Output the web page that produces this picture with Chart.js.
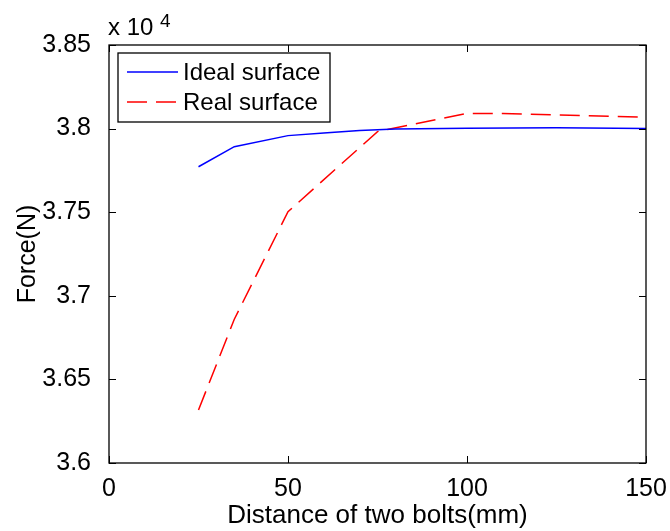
<!DOCTYPE html>
<html>
<head>
<meta charset="utf-8">
<script src="https://cdn.jsdelivr.net/npm/chart.js@4.4.1/dist/chart.umd.min.js"></script>
<style>
  html, body { margin: 0; padding: 0; background: #fff; }
  #wrap { width: 670px; height: 531px; }
</style>
</head>
<body>
<div id="wrap"><canvas id="myChart" width="670" height="531"></canvas></div>
<script>
// values (force in units of 10^4 N)
const idealX = [25, 35, 50, 60, 70, 80, 100, 125, 150];
const idealY = [3.7772, 3.7892, 3.7958, 3.7973, 3.7988, 3.7997, 3.8002, 3.8005, 3.8000];
const realX = [25, 35, 50, 75, 100, 110, 125, 140, 150];
const realY = [3.6317, 3.686, 3.7503, 3.7982, 3.8091, 3.8091, 3.8082, 3.8073, 3.8068];
const seriesNames = ['Ideal surface', 'Real surface'];
const xTicks = [0, 50, 100, 150];
const yTicks = [3.6, 3.65, 3.7, 3.75, 3.8, 3.85];

const FONT = "'Liberation Sans', Arial, sans-serif";

function pts(xs, ys) {
  return xs.map((x, i) => ({ x: x, y: ys[i] }));
}

// box, inward ticks, legend and exponent label, MATLAB style
const matlabAxes = {
  id: 'matlabAxes',
  afterDraw(chart) {
    const ctx = chart.ctx;
    const a = chart.chartArea;
    const xs = chart.scales.x, ys = chart.scales.y;
    ctx.save();
    ctx.strokeStyle = '#000';
    ctx.lineWidth = 1.3;
    ctx.strokeRect(a.left, a.top, a.right - a.left, a.bottom - a.top);
    ctx.lineWidth = 1;
    const tl = 7;
    ctx.beginPath();
    xTicks.forEach(v => {
      const px = Math.round(xs.getPixelForValue(v)) + 0.5;
      ctx.moveTo(px, a.bottom); ctx.lineTo(px, a.bottom - tl);
      ctx.moveTo(px, a.top); ctx.lineTo(px, a.top + tl);
    });
    yTicks.forEach(v => {
      const py = Math.round(ys.getPixelForValue(v)) + 0.5;
      ctx.moveTo(a.left, py); ctx.lineTo(a.left + tl, py);
      ctx.moveTo(a.right, py); ctx.lineTo(a.right - tl, py);
    });
    ctx.stroke();

    // legend box
    const lx = a.left + 9, ly = a.top + 8, lw = 212, lh = 69;
    ctx.fillStyle = '#fff';
    ctx.fillRect(lx, ly, lw, lh);
    ctx.lineWidth = 1.3;
    ctx.strokeRect(lx, ly, lw, lh);
    chart.data.datasets.forEach((ds, i) => {
      const cy = ly + 19 + i * 30;
      ctx.strokeStyle = ds.borderColor;
      ctx.lineWidth = ds.borderWidth;
      ctx.setLineDash(ds.borderDash || []);
      ctx.beginPath();
      ctx.moveTo(lx + 9, cy); ctx.lineTo(lx + 60, cy);
      ctx.stroke();
      ctx.setLineDash([]);
      ctx.fillStyle = '#000';
      ctx.font = '24px ' + FONT;
      ctx.textBaseline = 'middle';
      ctx.textAlign = 'left';
      ctx.fillText(ds.label, lx + 65, cy + 1);
    });

    // x 10^4
    ctx.fillStyle = '#000';
    ctx.textBaseline = 'alphabetic';
    ctx.font = '24px ' + FONT;
    ctx.fillText('x 10', a.left - 1, a.top - 10);
    ctx.font = '19px ' + FONT;
    ctx.fillText('4', a.left + 51, a.top - 18);
    ctx.restore();
  }
};

const ctx = document.getElementById('myChart').getContext('2d');
const myChart = new Chart(ctx, {
  type: 'line',
  data: {
    datasets: [
      {
        label: seriesNames[0],
        data: pts(idealX, idealY),
        borderColor: '#0000ff',
        borderWidth: 1.5,
        pointRadius: 0,
        tension: 0
      },
      {
        label: seriesNames[1],
        data: pts(realX, realY),
        borderColor: '#ff0000',
        borderWidth: 1.5,
        borderDash: [20, 9],
        pointRadius: 0,
        tension: 0
      }
    ]
  },
  options: {
    responsive: false,
    animation: false,
    layout: { padding: { top: 45, right: 24, left: 0, bottom: 0 } },
    plugins: { legend: { display: false }, tooltip: { enabled: false } },
    scales: {
      x: {
        type: 'linear',
        min: 0, max: 150,
        grid: { display: false },
        border: { display: false },
        afterBuildTicks: s => { s.ticks = xTicks.map(v => ({ value: v })); },
        afterFit: s => { s.height = 68; },
        ticks: { color: '#000', font: { family: FONT, size: 25 }, padding: 3, maxRotation: 0 },
        title: {
          display: true, text: 'Distance of two bolts(mm)', color: '#000',
          font: { family: FONT, size: 26 }, padding: { top: 0, bottom: 0 }
        }
      },
      y: {
        type: 'linear',
        min: 3.6, max: 3.85,
        grid: { display: false },
        border: { display: false },
        afterBuildTicks: s => { s.ticks = yTicks.map(v => ({ value: v })); },
        afterFit: s => { s.width = 109; },
        ticks: {
          color: '#000', font: { family: FONT, size: 25 }, padding: 10,
          callback: v => String(Number(v.toFixed(2)))
        },
        title: {
          display: true, text: 'Force(N)', color: '#000',
          font: { family: FONT, size: 25 }, padding: { top: 13, bottom: 0 }
        }
      }
    }
  },
  plugins: [matlabAxes]
});
</script>
</body>
</html>
